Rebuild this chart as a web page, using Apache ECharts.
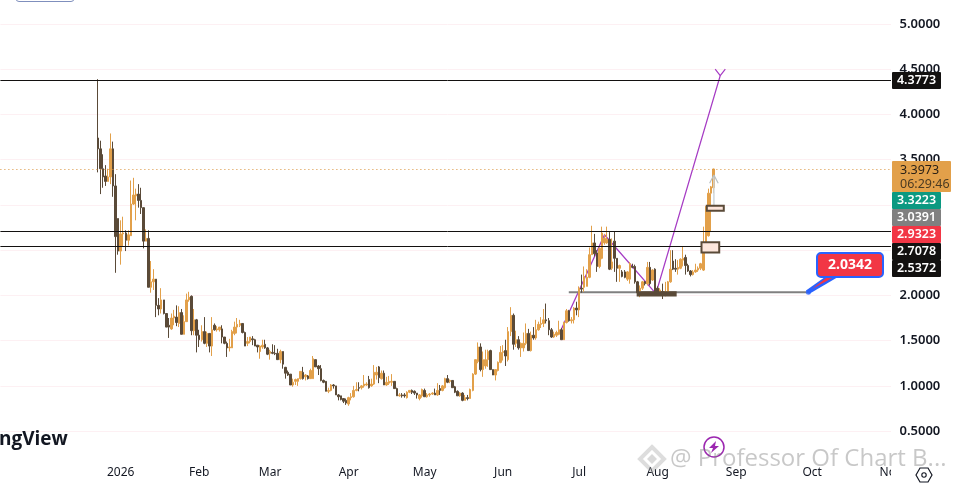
<!DOCTYPE html>
<html><head><meta charset="utf-8">
<style>html,body{margin:0;padding:0;background:#fff;overflow:hidden}#c{width:955px;height:485px}</style>
<script src="https://cdn.jsdelivr.net/npm/echarts@6/dist/echarts.min.js"></script>
</head><body><div id="c"></div>
<script>
// Each row: open, close, low, high
const candlesA = [
[3.74,3.62,3.36,4.39],[3.62,3.40,3.12,3.71],[3.40,3.31,3.19,3.56],[3.32,3.26,3.21,3.44],[3.26,3.31,3.26,3.40],
[3.31,3.62,3.23,3.79],[3.62,3.21,3.09,3.70],[3.21,2.65,2.25,3.34],[2.85,2.49,2.45,2.85],[2.49,2.68,2.34,2.83],
[2.68,2.69,2.54,2.87],[2.69,2.61,2.49,2.72],[2.61,2.67,2.55,2.72],[2.66,3.01,2.66,3.27],[3.01,3.11,3.00,3.30],
[3.10,3.12,2.83,3.18],[3.12,3.05,2.97,3.23],[3.05,2.97,2.90,3.19],[2.97,2.60,2.52,2.97],[2.60,2.63,2.60,2.73],
[2.63,2.09,2.09,2.72],[2.09,2.15,2.03,2.38],[2.15,2.18,2.06,2.29],[2.18,1.89,1.76,2.18],[1.89,1.85,1.78,1.97],
[1.85,1.95,1.80,2.08],[1.95,1.80,1.79,1.95],[1.80,1.65,1.65,1.80],[1.67,1.65,1.53,1.75],[1.63,1.75,1.62,1.80],
[1.75,1.77,1.67,1.84],[1.76,1.70,1.66,1.89],[1.69,1.81,1.65,1.88],[1.81,1.57,1.57,1.85],[1.57,1.71,1.57,1.78],
[1.71,1.95,1.71,2.02],[1.95,1.98,1.93,2.04],[1.99,1.61,1.56,2.00],[1.61,1.73,1.56,1.85],[1.73,1.56,1.37,1.74],
[1.56,1.51,1.43,1.62],[1.51,1.60,1.49,1.67],[1.60,1.47,1.46,1.76],[1.47,1.58,1.43,1.60],[1.58,1.44,1.37,1.58],
[1.44,1.62,1.33,1.76],[1.67,1.62,1.61,1.69],[1.62,1.63,1.60,1.66],[1.62,1.65,1.60,1.65],[1.63,1.54,1.47,1.67],
[1.54,1.47,1.46,1.54],[1.47,1.42,1.32,1.49],[1.42,1.43,1.38,1.52],[1.42,1.60,1.42,1.62],[1.58,1.65,1.56,1.71],
[1.65,1.68,1.58,1.75],[1.67,1.69,1.65,1.73],[1.69,1.59,1.58,1.69],[1.59,1.44,1.44,1.60],[1.47,1.49,1.44,1.54],
[1.49,1.54,1.47,1.54],[1.52,1.51,1.45,1.55],[1.51,1.44,1.44,1.52],[1.45,1.43,1.37,1.45],[1.38,1.44,1.30,1.45],
[1.43,1.45,1.41,1.51],[1.46,1.42,1.41,1.51],[1.42,1.35,1.34,1.43],[1.36,1.38,1.29,1.40],[1.37,1.36,1.35,1.46],
[1.36,1.355,1.34,1.45],[1.36,1.29,1.29,1.41],[1.29,1.38,1.25,1.40]];
const candlesB = [
[1.38,1.24,1.19,1.38],[1.205,1.14,1.08,1.21],[1.15,1.12,1.11,1.17],[1.13,1.01,1.01,1.13],[1.01,1.04,0.99,1.08],
[1.05,1.07,1.01,1.08],[1.05,1.08,1.00,1.08],[1.08,1.16,1.07,1.16],[1.15,1.08,1.07,1.21],[1.10,1.12,1.06,1.13],
[1.11,1.08,1.07,1.12],[1.08,1.17,1.08,1.19],[1.08,1.30,1.08,1.33],[1.29,1.21,1.21,1.29],[1.22,1.19,1.12,1.23],
[1.19,1.06,1.05,1.23],[1.06,1.04,1.03,1.07],[1.05,0.94,0.94,1.05],[0.94,0.95,0.92,0.98],[0.95,1.01,0.94,1.02],
[1.01,1.00,0.97,1.02],[1.00,0.90,0.90,1.00],[0.90,0.88,0.84,0.91],[0.89,0.85,0.84,0.89],[0.86,0.83,0.81,0.86],
[0.84,0.81,0.79,0.86],[0.80,0.87,0.78,0.88],[0.87,0.88,0.84,0.92],[0.88,0.95,0.87,1.00],[0.95,0.96,0.94,1.04],
[0.98,0.975,0.94,1.04],[0.98,1.00,0.96,1.01],[1.00,1.02,0.98,1.12],[1.01,1.02,1.00,1.04],[1.07,0.98,0.97,1.11],
[1.00,1.02,0.99,1.08],[1.02,1.15,1.01,1.23],[1.12,1.15,1.07,1.21],[1.21,1.09,1.03,1.22],[1.08,1.14,1.07,1.17],
[1.14,1.01,1.01,1.17],[1.01,1.04,1.00,1.10],[1.03,1.05,1.01,1.11],[1.04,1.05,1.00,1.13],[1.05,0.97,0.97,1.05],
[0.97,0.89,0.89,0.98],[0.89,0.90,0.88,0.92],[0.90,0.89,0.87,0.92],[0.90,0.89,0.87,0.92],[0.87,0.93,0.86,0.94],
[0.93,0.95,0.92,0.95],[0.95,0.93,0.91,0.96],[0.94,0.92,0.90,0.95],[0.92,0.90,0.86,0.92],[0.86,0.90,0.84,0.91],
[0.89,0.96,0.87,0.97],[0.95,0.88,0.88,0.97],[0.88,0.90,0.87,0.92],[0.90,0.91,0.88,0.92],[0.91,0.92,0.90,0.93],
[0.92,0.90,0.90,0.97],[0.90,0.95,0.89,1.03],[0.97,0.95,0.90,1.01],[0.95,1.00,0.94,1.01],[0.98,1.08,0.97,1.09],
[1.08,1.04,1.03,1.12],[1.05,1.06,1.03,1.07],[1.06,0.98,0.98,1.06],[0.99,0.93,0.92,1.00],[0.94,0.89,0.89,0.95],
[0.89,0.92,0.88,0.93],[0.92,0.84,0.83,0.93],[0.84,0.87,0.84,0.90],[0.87,0.86,0.84,0.90],[0.86,0.96,0.86,0.97],
[0.95,1.13,0.94,1.14],[1.13,1.29,1.12,1.29],[1.27,1.43,1.25,1.48],[1.43,1.18,1.16,1.47],[1.18,1.29,1.10,1.38],
[1.22,1.29,1.19,1.40],[1.29,1.38,1.21,1.40],[1.39,1.18,1.18,1.40],[1.18,1.12,1.12,1.18],[1.12,1.18,1.06,1.18],
[1.17,1.26,1.16,1.27],[1.26,1.37,1.25,1.44],[1.37,1.38,1.28,1.45],[1.39,1.33,1.22,1.51],[1.29,1.60,1.27,1.65],
[1.60,1.78,1.55,1.87],[1.78,1.46,1.40,1.80],[1.47,1.51,1.43,1.61],[1.51,1.42,1.40,1.55],[1.42,1.47,1.32,1.48],
[1.42,1.47,1.38,1.59],[1.47,1.58,1.45,1.69],[1.58,1.39,1.39,1.63],[1.39,1.56,1.38,1.60],[1.56,1.53,1.51,1.65],
[1.53,1.62,1.51,1.73],[1.62,1.68,1.61,1.71],[1.68,1.69,1.64,1.76]];
const candlesC = [
[1.69,1.73,1.65,1.85],[1.73,1.72,1.69,1.91],[1.72,1.62,1.56,1.75],[1.62,1.54,1.53,1.64],[1.54,1.57,1.53,1.60],
[1.56,1.59,1.54,1.61],[1.57,1.62,1.56,1.72],[1.62,1.51,1.51,1.64],[1.51,1.70,1.51,1.71],
[1.70,1.83,1.69,1.85],[1.83,1.72,1.71,1.84],[1.72,1.73,1.69,1.76],[1.73,1.86,1.69,1.87],[1.86,1.84,1.78,1.93],
[1.84,2.08,1.76,2.10],[2.08,2.07,2.03,2.23],[2.09,2.21,2.04,2.32],[2.10,2.20,2.10,2.29],[2.20,2.45,2.19,2.53],
[2.45,2.58,2.45,2.77],[2.58,2.46,2.43,2.68],[2.47,2.32,2.26,2.50],[2.32,2.52,2.30,2.53],[2.41,2.69,2.40,2.76],
[2.58,2.63,2.56,2.68],[2.58,2.62,2.57,2.76],[2.62,2.29,2.28,2.70],[2.30,2.37,2.28,2.63],[2.60,2.41,2.26,2.71],
[2.41,2.30,2.15,2.41],[2.30,2.33,2.15,2.34],[2.26,2.21,2.20,2.28],[2.26,2.20,2.19,2.28],[2.18,2.26,2.16,2.27],
[2.18,2.35,2.13,2.37],[2.32,2.31,2.30,2.35],[2.32,2.15,2.13,2.34],[2.15,2.03,2.00,2.16],[2.05,2.08,1.98,2.11],
[2.08,2.15,2.06,2.16],[2.15,2.13,2.11,2.16],[2.13,2.31,2.11,2.37],[2.31,2.13,2.11,2.37],[2.17,2.28,2.16,2.29],
[2.29,2.04,2.03,2.30],[2.08,2.02,2.01,2.10],[2.02,2.06,2.00,2.08],[2.04,2.00,1.96,2.13],[2.00,2.04,1.99,2.15],
[2.04,2.15,2.03,2.16],[2.15,2.29,2.14,2.50],[2.38,2.29,2.28,2.50],[2.30,2.29,2.26,2.40],[2.29,2.31,2.23,2.39],
[2.30,2.40,2.29,2.41],[2.39,2.41,2.32,2.54],[2.42,2.33,2.23,2.45],[2.33,2.27,2.26,2.35],[2.27,2.23,2.21,2.28],
[2.23,2.26,2.22,2.28],[2.26,2.28,2.25,2.35],[2.28,2.30,2.26,2.32],[2.30,2.35,2.28,2.36],[2.28,2.58,2.27,2.76],
[2.58,2.98,2.57,2.99],[2.66,3.13,2.65,3.18],[3.13,3.20,2.70,3.21],[3.19,3.3973,3.13,3.40]];

const firstDay = '2025-11-15', firstCandleIndex = 38, dayCount = 353;
const monthTicks = {'2026-01-01':'2026','2026-02-01':'Feb','2026-03-01':'Mar','2026-04-01':'Apr','2026-05-01':'May','2026-06-01':'Jun','2026-07-01':'Jul','2026-08-01':'Aug','2026-09-01':'Sep','2026-10-01':'Oct','2026-11-01':'Nov'};
const priceLevels = [4.3773, 2.7078, 2.5372];
const lastPrice = 3.3973, calloutPrice = 2.0342;
const purplePath = [[220.2,1.58],[238,2.67],[258.3,2.02],[283.7,4.43]];
const purpleHead = [[281.7,4.50],[283.7,4.43],[285.7,4.50]];
const grayArrow = [[281.2,2.95],[281.2,3.32]];
const grayArrowHead = [[279.5,3.24],[281.2,3.33],[282.9,3.24]];
const calloutLine = [[223.9,2.0342],[318.5,2.0342]];
const boxes = [[251.1,266.1,2.034,2.0,'#5a4a38'],[278.4,285.1,2.99,2.936,'#fde6dc'],[276.3,283.3,2.587,2.475,'#fde6dc']];
const priceTags = [
 {y:72,h:17,w:49,fill:'#131110',color:'#fff',text:'4.3773'},
 {y:192,h:17,w:49,fill:'#0b9981',color:'#fff',text:'3.3223'},
 {y:209,h:17,w:49,fill:'#808080',color:'#fff',text:'3.0391'},
 {y:226,h:17,w:49,fill:'#f23645',color:'#fff',text:'2.9323'},
 {y:243,h:17,w:49,fill:'#131110',color:'#fff',text:'2.7078'},
 {y:260,h:17,w:49,fill:'#131110',color:'#fff',text:'2.5372'}];

const UP='#e2a04a', DOWN='#5a4a38', FONT='"Noto Sans","Open Sans",sans-serif';
const categories=[]; {const d=new Date(firstDay+'T00:00:00Z'); for(let i=0;i<dayCount;i++){categories.push(d.toISOString().slice(0,10)); d.setUTCDate(d.getUTCDate()+1);}}
const rows=[...candlesA,...candlesB,...candlesC];
const seriesData=categories.map((_,i)=>{const r=rows[i-firstCandleIndex];return r?r:'-';});

const chart=echarts.init(document.getElementById('c'),null,{renderer:'canvas'});
function overlay(data,color,width,z){return {type:'line',xAxisIndex:1,yAxisIndex:0,data,symbol:'none',silent:true,animation:false,lineStyle:{color,width},z:z||5};}
const gfx=[];
gfx.push({type:'rect',z:50,shape:{x:891,y:0,width:5,height:462},style:{fill:'#fff'}});
gfx.push({type:'rect',z:50,shape:{x:891,y:462,width:64,height:23},style:{fill:'#fff'}});
gfx.push({type:'rect',z:50,shape:{x:16,y:-10,width:58,height:11.5,r:3},style:{fill:'#fff',stroke:'#7f8fbd',lineWidth:1}});
gfx.push({type:'text',z:60,x:-1,y:440,style:{text:'ngView',font:'bold 19px "Open Sans",sans-serif',fill:'#131722',verticalAlign:'middle'}});
priceTags.forEach(t=>{gfx.push({type:'rect',z:60,shape:{x:892,y:t.y,width:t.w,height:t.h,r:1},style:{fill:t.fill}});
 gfx.push({type:'text',z:61,x:892+t.w/2,y:t.y+t.h/2,style:{text:t.text,font:'600 12.5px '+FONT,fill:t.color,align:'center',verticalAlign:'middle'}});});
gfx.push({type:'rect',z:60,shape:{x:892,y:161,width:59,height:31,r:1},style:{fill:UP}});
gfx.push({type:'text',z:61,x:900,y:170,style:{text:String(lastPrice.toFixed(4)),font:'12.5px '+FONT,fill:'#2b2116',verticalAlign:'middle'}});
gfx.push({type:'text',z:61,x:900,y:184,style:{text:'06:29:46',font:'12.5px '+FONT,fill:'#4a3a22',verticalAlign:'middle'}});
gfx.push({type:'polygon',z:40,shape:{points:[[806,290.5],[809,294],[838,277],[825,277]]},style:{fill:'#2962ff'}});
gfx.push({type:'polygon',z:41,shape:{points:[[812,289],[828,276.5],[835,276.5]]},style:{fill:'#f23645'}});
gfx.push({type:'rect',z:42,shape:{x:817,y:253,width:66,height:24,r:4},style:{fill:'#f23645',stroke:'#2962ff',lineWidth:2}});
gfx.push({type:'text',z:43,x:850,y:265,style:{text:calloutPrice.toFixed(4),font:'bold 14px '+FONT,fill:'#fff',align:'center',verticalAlign:'middle'}});
gfx.push({type:'circle',z:45,shape:{cx:714,cy:447,r:10},style:{fill:'rgba(255,255,255,0.8)',stroke:'#9c27b0',lineWidth:1.5}});
gfx.push({type:'polygon',z:46,shape:{points:[[716,441],[709,448],[713,448],[711,453],[719,446],[715,446]]},style:{fill:'#9c27b0'}});
gfx.push({type:'text',z:70,x:670,y:459,style:{text:'@ Professor Of Chart B...',font:'24px "Open Sans",sans-serif',fill:'rgba(125,125,125,0.42)',verticalAlign:'middle'}});
[[[652,447],[664,459],[652,471],[640,459]]].forEach(p=>gfx.push({type:'polygon',z:70,shape:{points:p},style:{fill:'none',stroke:'rgba(170,170,170,0.4)',lineWidth:4}}));
gfx.push({type:'polygon',z:70,shape:{points:[[652,454],[657,459],[652,464],[647,459]]},style:{fill:'rgba(170,170,170,0.45)'}});
gfx.push({type:'polygon',z:70,shape:{points:[[916,475],[920,468],[928,468],[932,475],[928,482],[920,482]]},style:{fill:'#fff',stroke:'#131722',lineWidth:1.2}});
gfx.push({type:'circle',z:71,shape:{cx:924,cy:475,r:2.2},style:{fill:'#fff',stroke:'#131722',lineWidth:1.1}});

const option={
 animation:false,backgroundColor:'#fff',
 grid:{left:0.4,width:894.1,top:-21.235,height:452.35,outerBoundsMode:'none',containLabel:false},
 xAxis:[
  {type:'category',data:categories,boundaryGap:true,axisLine:{show:false},axisTick:{show:false},splitLine:{show:false},
   axisLabel:{interval:(i,v)=>!!monthTicks[v],formatter:v=>monthTicks[v]||'',margin:35,color:'#131722',fontFamily:FONT,fontSize:12,hideOverlap:false}},
  {type:'value',min:-0.5,max:dayCount-0.5,show:false}],
 yAxis:[{type:'value',position:'right',min:0.5,max:5.5,interval:0.5,axisLine:{show:false},axisTick:{show:false},
   splitLine:{show:true,lineStyle:{color:'#fdf0f3',width:1}},
   axisLabel:{formatter:v=>v.toFixed(4),color:'#131722',fontFamily:FONT,fontSize:13,fontWeight:600,margin:5,align:'left'}}],
 graphic:gfx,
 series:[
  {type:'candlestick',data:seriesData,xAxisIndex:0,yAxisIndex:0,barWidth:2,z:3,
   itemStyle:{color:UP,color0:DOWN,borderColor:UP,borderColor0:DOWN,borderWidth:1},
   markLine:{silent:true,symbol:'none',animation:false,label:{show:false},z:4,
    data:[...priceLevels.map(p=>({yAxis:p,lineStyle:{color:'#131110',width:1,type:'solid'}})),
          {yAxis:lastPrice,lineStyle:{color:'#d9913a',width:1,type:[1,3]}}]}},
  overlay(purplePath,'#a63cc4',1.3,2),
  overlay(purpleHead,'#a63cc4',1.2,2),
  overlay(calloutLine,'#808080',2,2),
  overlay(grayArrow,'#cfd6da',1.5,6),
  overlay(grayArrowHead,'#b8c0c4',1.2,6),
  {type:'scatter',xAxisIndex:1,yAxisIndex:0,data:[[calloutLine[1][0],calloutPrice]],symbolSize:5,silent:true,z:6,itemStyle:{color:'#2962ff'}},
  {type:'custom',xAxisIndex:1,yAxisIndex:0,data:boxes,silent:true,z:7,encode:{x:[0,1],y:[2,3]},
   renderItem:(p,api)=>{const a=api.coord([api.value(0),api.value(2)]),b=api.coord([api.value(1),api.value(3)]);
    return {type:'rect',shape:{x:a[0],y:a[1],width:b[0]-a[0],height:b[1]-a[1]},style:{fill:boxes[p.dataIndex][4],stroke:'#5a4a38',lineWidth:2}};}}
 ]};
chart.setOption(option);
</script></body></html>
